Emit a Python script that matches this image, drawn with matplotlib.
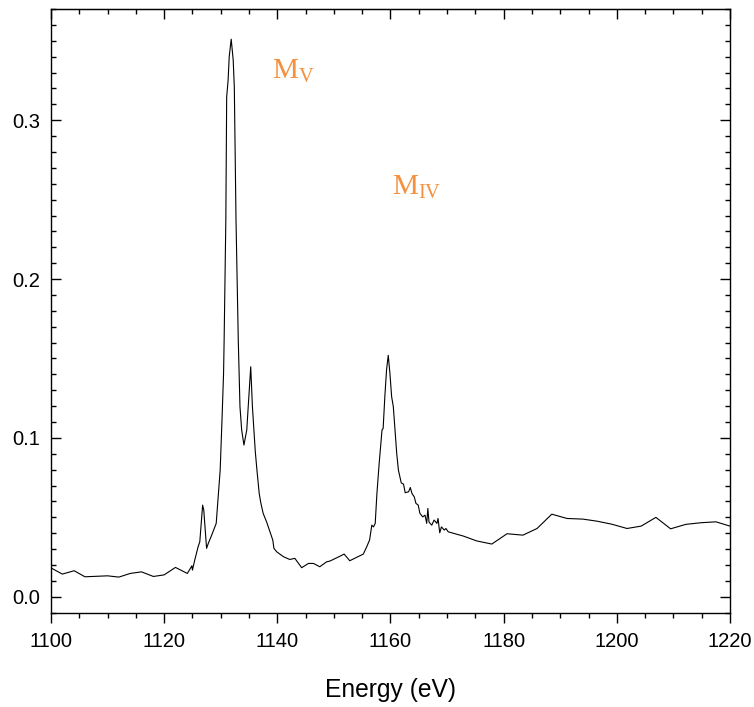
import numpy as np
import matplotlib
matplotlib.use('Agg')
from matplotlib import pyplot as plt
from matplotlib.ticker import MultipleLocator

# spectrum
energy = [1100.0, 1102.0, 1104.1, 1106.0, 1110.0, 1112.0, 1114.0, 1116.0, 1118.1, 1120.0,
          1122.0, 1124.1, 1124.9, 1125.0, 1125.4, 1126.0, 1126.3, 1126.8, 1127.0, 1127.5,
          1127.8, 1128.4, 1129.2, 1129.6, 1129.9, 1130.2, 1130.5, 1130.6, 1130.9, 1131.05,
          1131.3, 1131.5, 1131.85, 1132.2, 1132.4, 1132.7, 1133.1, 1133.4, 1133.7, 1134.1,
          1134.6, 1135.0, 1135.3, 1135.6, 1136.1, 1136.4, 1136.8, 1137.1, 1137.5, 1138.1,
          1138.7, 1139.2, 1139.4, 1139.9, 1141.1, 1142.2, 1143.1, 1144.3, 1145.5, 1146.4,
          1147.5, 1148.7, 1149.3, 1151.1, 1151.8, 1152.8, 1155.2, 1155.8, 1156.3, 1156.7,
          1157.0, 1157.3, 1157.6, 1158.0, 1158.3, 1158.5, 1158.7, 1159.0, 1159.3, 1159.6,
          1159.9, 1160.2, 1160.5, 1160.8, 1161.1, 1161.4, 1161.9, 1162.3, 1162.6, 1163.2,
          1163.5, 1163.8, 1164.2, 1164.5, 1164.9, 1165.2, 1165.7, 1166.1, 1166.4, 1166.6,
          1166.8, 1167.0, 1167.3, 1167.7, 1168.2, 1168.4, 1168.7, 1169.0, 1169.5, 1169.8,
          1170.2, 1172.9, 1175.2, 1177.9, 1180.6, 1183.4, 1185.9, 1188.5, 1191.2, 1194.0,
          1196.5, 1199.1, 1201.8, 1204.3, 1206.9, 1209.5, 1212.2, 1214.8, 1217.5, 1220.0]
intensity = [0.0182, 0.0143, 0.0164, 0.0126, 0.0132, 0.0124, 0.0147, 0.0157, 0.0128, 0.0138,
             0.0185, 0.0147, 0.0195, 0.0168, 0.0230, 0.0315, 0.0346, 0.0577, 0.0546, 0.0305,
             0.0336, 0.0388, 0.0462, 0.0650, 0.0797, 0.1090, 0.1406, 0.1615, 0.2370, 0.3147,
             0.3250, 0.3400, 0.3510, 0.3380, 0.3210, 0.2370, 0.1615, 0.1196, 0.1050, 0.0955,
             0.1050, 0.1280, 0.1448, 0.1196, 0.0917, 0.0797, 0.0650, 0.0588, 0.0525, 0.0472,
             0.0409, 0.0357, 0.0305, 0.0283, 0.0252, 0.0235, 0.0242, 0.0183, 0.0210, 0.0210,
             0.0189, 0.0220, 0.0225, 0.0256, 0.0269, 0.0227, 0.0269, 0.0315, 0.0357, 0.0451,
             0.0440, 0.0462, 0.0650, 0.0840, 0.0965, 0.1050, 0.1060, 0.1260, 0.1427, 0.1520,
             0.1406, 0.1260, 0.1196, 0.1050, 0.0902, 0.0797, 0.0717, 0.0709, 0.0655, 0.0661,
             0.0688, 0.0650, 0.0629, 0.0588, 0.0577, 0.0525, 0.0503, 0.0514, 0.0462, 0.0556,
             0.0472, 0.0462, 0.0451, 0.0483, 0.0462, 0.0493, 0.0403, 0.0440, 0.0420, 0.0430,
             0.0409, 0.0382, 0.0352, 0.0332, 0.0397, 0.0388, 0.0430, 0.0520, 0.0493, 0.0489,
             0.0476, 0.0457, 0.0430, 0.0445, 0.0500, 0.0428, 0.0456, 0.0466, 0.0472, 0.0445]

peak_labels = ['V', 'IV']
peak_pos = [(1139.0, 0.3262), (1160.2, 0.2532)]

plt.rcParams['font.family'] = ['Liberation Sans', 'DejaVu Sans']
plt.rcParams['mathtext.fontset'] = 'custom'
plt.rcParams['mathtext.rm'] = 'Liberation Serif'
fontsize = 14.5
orange = '#f5913e'

fig = plt.figure(figsize=(7.54, 7.07), dpi=100)
ax = fig.add_axes([0.0676, 0.1334, 0.9006, 0.8539])
ax.plot(energy, intensity, color='black', linewidth=0.8)

ax.set_xlim(1100, 1220)
ax.set_ylim(-0.01, 0.37)
ax.xaxis.set_major_locator(MultipleLocator(20))
ax.xaxis.set_minor_locator(MultipleLocator(5))
ax.yaxis.set_major_locator(MultipleLocator(0.1))
ax.yaxis.set_minor_locator(MultipleLocator(0.01))

for sp in ax.spines.values():
    sp.set_linewidth(1.0)
ax.tick_params(axis='x', which='both', direction='out', bottom=True, top=False,
               labelsize=fontsize, pad=7, width=1.0)
ax.tick_params(axis='y', which='both', direction='in', left=True, right=True,
               labelsize=fontsize, pad=8, width=1.0)
ax.tick_params(which='major', length=7.2)
ax.tick_params(which='minor', length=3.6)

top = ax.secondary_xaxis('top')
top.xaxis.set_major_locator(MultipleLocator(20))
top.xaxis.set_minor_locator(MultipleLocator(5))
top.tick_params(which='both', direction='in', labeltop=False, width=1.0)
top.tick_params(which='major', length=7.2)
top.tick_params(which='minor', length=3.6)

ax.set_xlabel('Energy (eV)', fontsize=17.7, labelpad=19)

for lab, (x, y) in zip(peak_labels, peak_pos):
    ax.text(x, y, r'$\mathrm{M_{' + lab + '}}$', color=orange, fontsize=21,
            ha='left', va='baseline')

fig.savefig('out.png', dpi=100)
